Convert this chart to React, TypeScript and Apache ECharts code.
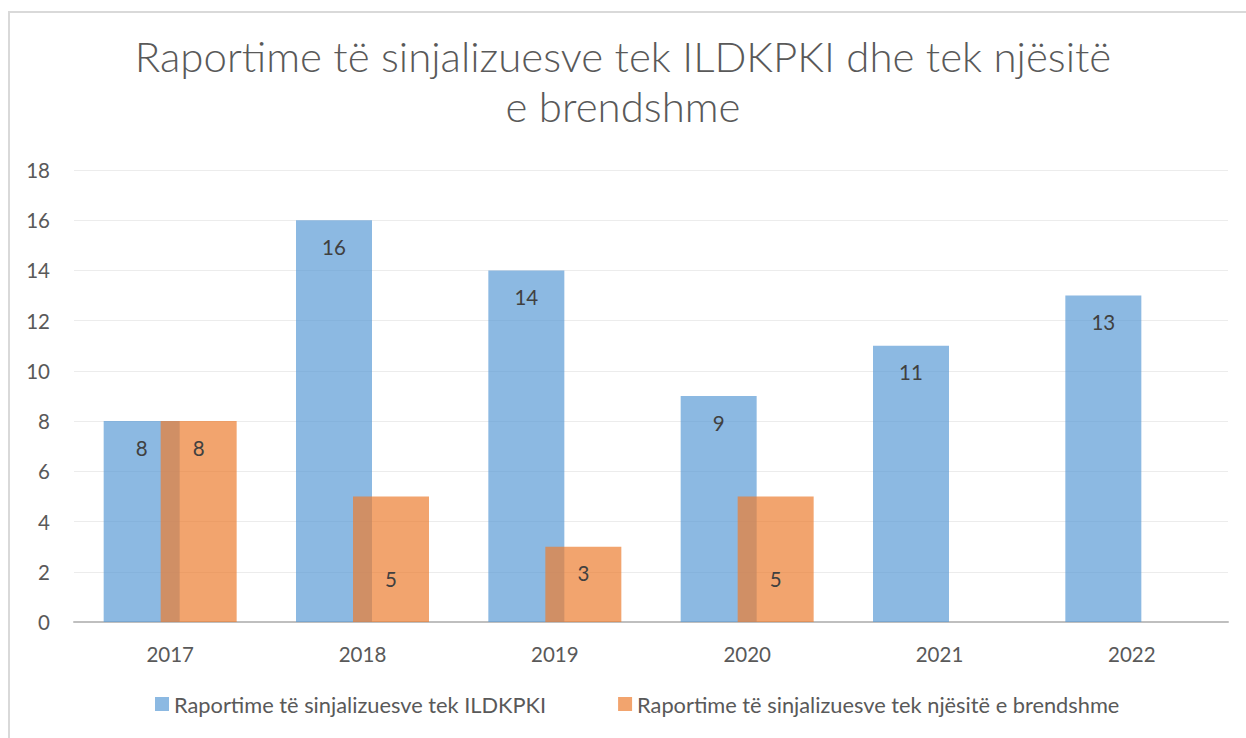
import React, { useEffect, useRef } from "react";
import * as echarts from "echarts";

const years = ["2017", "2018", "2019", "2020", "2021", "2022"];
const ildkpki = [8, 16, 14, 9, 11, 13];
const brendshme: (number | null)[] = [8, 5, 3, 5, null, null];
const seriesNames = [
  "Raportime të sinjalizuesve tek ILDKPKI",
  "Raportime të sinjalizuesve tek njësitë e brendshme",
];
const titleText = "Raportime të sinjalizuesve tek ILDKPKI dhe tek njësitë\ne brendshme";

export default function App() {
  const ref = useRef<HTMLDivElement>(null);
  useEffect(() => {
    if (!ref.current) return;
    const chart = echarts.init(ref.current, null, { renderer: "svg" });
    const font = "Lato, 'Open Sans', sans-serif";
    chart.setOption({
      animation: false,
      backgroundColor: "#ffffff",
      textStyle: { fontFamily: font },
      title: {
        text: titleText,
        left: "center",
        top: 26,
        textStyle: {
          fontFamily: font,
          fontWeight: 300,
          fontSize: 42,
          color: "#595959",
          lineHeight: 50,
        },
      },
      graphic: [
        {
          type: "rect",
          shape: { x: 9, y: 12, width: 1400, height: 900 },
          style: { fill: "none", stroke: "#d9d9d9", lineWidth: 2 },
          silent: true,
        },
      ],
      legend: {
        bottom: 18,
        left: 150,
        itemWidth: 14,
        itemHeight: 14,
        itemGap: 72,
        icon: "rect",
        textStyle: { fontSize: 21.8, color: "#595959", fontFamily: font },
      },
      grid: { left: 74, right: 18, top: 170, bottom: 116 },
      xAxis: {
        type: "category",
        data: years,
        axisTick: { show: false },
        axisLine: { lineStyle: { color: "#bfbfbf", width: 2 } },
        axisLabel: { color: "#595959", fontSize: 20.5, margin: 21 },
      },
      yAxis: {
        type: "value",
        min: 0,
        max: 18,
        interval: 2,
        axisLine: { show: false },
        axisTick: { show: false },
        axisLabel: { color: "#595959", fontSize: 20.5, margin: 24 },
        splitLine: { lineStyle: { color: "#ececec", width: 1 } },
      },
      series: [
        {
          name: seriesNames[0],
          type: "bar",
          data: ildkpki,
          barWidth: 76,
          barGap: "-25%",
          itemStyle: { color: "rgba(91,155,213,0.7)" },
          label: {
            show: true,
            position: "insideTop",
            distance: 16,
            color: "#404040",
            fontSize: 20.5,
          },
        },
        {
          name: seriesNames[1],
          type: "bar",
          data: brendshme.map((v) => ({
            value: v,
            label: v === 5 ? { offset: [0, 56] } : undefined,
          })),
          barWidth: 76,
          barGap: "-25%",
          itemStyle: { color: "rgba(237,125,49,0.7)" },
          label: {
            show: true,
            position: "insideTop",
            distance: 16,
            color: "#404040",
            fontSize: 20.5,
          },
        },
      ],
    });
    return () => chart.dispose();
  }, []);
  return (
    <div
      ref={ref}
      style={{ position: "fixed", left: 0, top: 0, width: 1246, height: 738 }}
    />
  );
}
